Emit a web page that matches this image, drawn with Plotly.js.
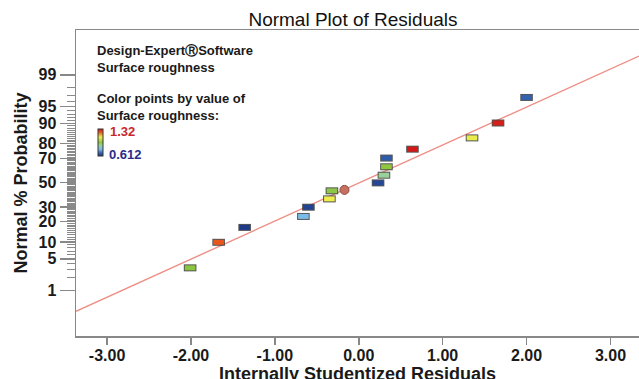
<!DOCTYPE html>
<html>
<head>
<meta charset="utf-8">
<script src="https://cdn.plot.ly/plotly-3.0.1.min.js"></script>
<style>
  html, body { margin: 0; padding: 0; background: #fff; overflow: hidden; width: 639px; height: 379px; }
  #chart { width: 639px; height: 392px; }
</style>
</head>
<body>
<div id="chart"></div>
<script>
// ---- Data ----
// Internally studentized residuals (x) of the 16 runs
const residuals = [-2.01, -1.67, -1.36, -0.66, -0.60, -0.35, -0.32, -0.17,
                   0.23, 0.30, 0.33, 0.33, 0.64, 1.35, 1.66, 2.00];
// Normal % probability of each run (y)
const probabilityPct = [3.3, 9.9, 16.7, 23.3, 29.8, 36.3, 43.0, 43.8,
                        49.8, 56.4, 63.4, 70.2, 76.5, 83.3, 90.1, 96.7];
// Surface roughness of each run (colour)
const roughness = [0.966, 1.235, 0.612, 0.789, 0.630, 1.108, 0.960, 1.200,
                   0.640, 0.895, 0.970, 0.683, 1.320, 1.100, 1.310, 0.690];
// run drawn as a highlighted (round) point
const highlightedRun = 7;
// Reference line end points
const fitResid = [-3.37, 3.34];
const fitPct = [0.276, 99.685];
// Tick labels
const xTickVals = [-3, -2, -1, 0, 1, 2, 3];
const xTickText = ['-3.00', '-2.00', '-1.00', '0.00', '1.00', '2.00', '3.00'];
const yTickPct = [1, 5, 10, 20, 30, 50, 70, 80, 90, 95, 99];
const yTickText = ['1', '5', '10', '20', '30', '50', '70', '80', '90', '95', '99'];
const roughMin = 0.612, roughMax = 1.32;

// ---- probit (inverse normal CDF), Acklam's approximation ----
function probit(p) {
  const a = [-3.969683028665376e+01, 2.209460984245205e+02, -2.759285104469687e+02,
             1.383577518672690e+02, -3.066479806614716e+01, 2.506628277459239e+00];
  const b = [-5.447609879822406e+01, 1.615858368580409e+02, -1.556989798598866e+02,
             6.680131188771972e+01, -1.328068155288572e+01];
  const c = [-7.784894002430293e-03, -3.223964580411365e-01, -2.400758277161838e+00,
             -2.549671010115138e+00, 4.374664141464968e+00, 2.938163982698783e+00];
  const d = [7.784695709041462e-03, 3.224671290700398e-01, 2.445134137142996e+00,
             3.754408661907416e+00];
  const plow = 0.02425, phigh = 1 - plow;
  let q, r;
  if (p < plow) {
    q = Math.sqrt(-2 * Math.log(p));
    return (((((c[0]*q+c[1])*q+c[2])*q+c[3])*q+c[4])*q+c[5]) /
           ((((d[0]*q+d[1])*q+d[2])*q+d[3])*q+1);
  } else if (p <= phigh) {
    q = p - 0.5; r = q * q;
    return (((((a[0]*r+a[1])*r+a[2])*r+a[3])*r+a[4])*r+a[5])*q /
           (((((b[0]*r+b[1])*r+b[2])*r+b[3])*r+b[4])*r+1);
  } else {
    q = Math.sqrt(-2 * Math.log(1 - p));
    return -(((((c[0]*q+c[1])*q+c[2])*q+c[3])*q+c[4])*q+c[5]) /
            ((((d[0]*q+d[1])*q+d[2])*q+d[3])*q+1);
  }
}
const z = pct => probit(pct / 100);

const rectIdx = residuals.map((_, i) => i).filter(i => i !== highlightedRun);
const rx = rectIdx.map(i => residuals[i]);
const ry = rectIdx.map(i => z(probabilityPct[i]));
const rc = rectIdx.map(i => roughness[i]);

const minorVals = [];
for (let p = 1; p <= 99; p++) if (!yTickPct.includes(p)) minorVals.push(z(p));

const colorscale = [
  [0.00, '#1d3a8a'], [0.10, '#2f5bab'], [0.25, '#7bbbe8'], [0.40, '#98d29a'],
  [0.50, '#8cc63f'], [0.70, '#eeee4e'], [0.88, '#e8561e'], [1.00, '#d41818']
];

const font = 'Liberation Sans, Arial, sans-serif';

const traces = [
  { // reference line
    x: fitResid, y: fitPct.map(z), mode: 'lines', type: 'scatter',
    line: { color: '#ee8f86', width: 1.4 }, hoverinfo: 'skip'
  },
  { // rectangle outlines
    x: rx, y: ry, mode: 'markers', type: 'scatter',
    marker: { symbol: 'line-ew-open', size: 9.0, color: 'rgba(55,55,55,0.85)',
              line: { width: 7 } }
  },
  { // rectangle fills coloured by roughness
    x: rx, y: ry, mode: 'markers', type: 'scatter',
    marker: { symbol: 'line-ew-open', size: 7.6, color: rc, colorscale: colorscale,
              cmin: roughMin, cmax: roughMax, line: { width: 5 },
              showscale: true,
              colorbar: { x: 0.039, xanchor: 'left', y: 0.677, yanchor: 'top',
                          len: 27, lenmode: 'pixels', thickness: 5,
                          xpad: 0, ypad: 0, outlinewidth: 1, outlinecolor: '#333',
                          showticklabels: false, ticks: '' } }
  },
  { // highlighted run
    x: [residuals[highlightedRun]], y: [z(probabilityPct[highlightedRun])],
    mode: 'markers', type: 'scatter',
    marker: { symbol: 'circle', size: 9, color: '#c8705f',
              line: { width: 1, color: '#8a4a40' } }
  }
];

function note(text, px, py, color) {
  return { text: text, xref: 'paper', yref: 'paper',
           x: (px - 76) / 563, y: (336 - py) / 306,
           xanchor: 'left', yanchor: 'middle', showarrow: false,
           font: { family: font, size: 13, color: color || '#1a1a1a', weight: 'bold' } };
}

const layout = {
  width: 639, height: 392,
  margin: { l: 76, r: 0, t: 30, b: 56 },
  paper_bgcolor: '#ffffff', plot_bgcolor: '#ffffff',
  showlegend: false,
  title: { text: 'Normal Plot of Residuals', xref: 'container', x: 0.5524,
           xanchor: 'center', yref: 'container', y: 1 - 19.5 / 392, yanchor: 'middle',
           font: { family: font, size: 19, color: '#111' } },
  xaxis: {
    range: [-3.37, 3.34], tickmode: 'array', tickvals: xTickVals, ticktext: xTickText,
    ticks: 'outside', ticklen: 7, tickwidth: 1.5, tickcolor: '#888',
    ticklabelstandoff: -3,
    showline: true, linecolor: '#888', linewidth: 1.5, mirror: true,
    showgrid: false, zeroline: false,
    tickfont: { family: font, size: 16, color: '#1a1a1a', weight: 'bold' },
    title: { text: 'Internally Studentized Residuals', standoff: 2,
             font: { family: font, size: 18, color: '#1a1a1a', weight: 'bold' } }
  },
  yaxis: {
    range: [-3.309, 3.294], tickmode: 'array', tickvals: yTickPct.map(z), ticktext: yTickText,
    ticks: 'outside', ticklen: 15, tickwidth: 1.5, tickcolor: '#888',
    minor: { tickmode: 'array', tickvals: minorVals, ticks: 'outside', ticklen: 8,
             tickwidth: 1, tickcolor: '#8a8a8a', showgrid: false },
    showline: true, linecolor: '#888', linewidth: 1.5, mirror: false,
    showgrid: false, zeroline: false,
    tickfont: { family: font, size: 16, color: '#1a1a1a', weight: 'bold' },
    title: { text: 'Normal % Probability', standoff: 6,
             font: { family: font, size: 18, color: '#1a1a1a', weight: 'bold' } }
  },
  annotations: [
    note('Design-Expert\u24C7Software', 95, 51),
    note('Surface roughness', 95, 67),
    note('Color points by value of', 95, 99),
    note('Surface roughness:', 95, 115),
    note('1.32', 108, 131, '#c8282d'),
    note('0.612', 107, 154, '#2b2b8c')
  ]
};

Plotly.newPlot('chart', traces, layout, { displayModeBar: false, staticPlot: true });
</script>
</body>
</html>
